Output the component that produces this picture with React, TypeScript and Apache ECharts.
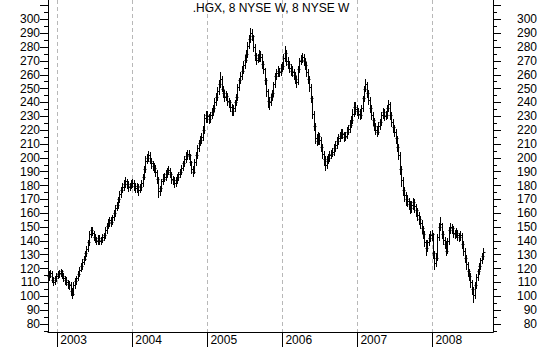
import { useEffect, useRef } from 'react';
import * as echarts from 'echarts';

const chartTitle = '.HGX, 8 NYSE W, 8 NYSE W';
// first weekly bar: 2002-11-22, one bar per week
const firstWeek = { y: 2002, m: 10, d: 22 };

// weekly bars: [high, low, close]
const wk2002 = [[118,112,115],[119,114,117],[118,110,112],[114,108,110],[115,109,113],[117,111,115]];
const wk2003 = [[118,113,116],[119,114,117],[120,115,118],[119,113,115],[117,111,113],[115,109,112],[114,108,110],[112,106,109],[111,105,108],[110,101,104],[106,99,102],[110,101,108],[113,106,111],[115,109,113],[118,112,116],[121,115,119],[124,118,122],[127,120,125],[129,123,127],[133,126,131],[136,129,134],[141,133,139],[147,137,145],[150,143,148],[150,144,146],[147,141,143],[145,139,141],[143,138,140],[144,138,142],[144,138,140],[143,138,141],[145,139,143],[146,141,144],[150,142,148],[153,146,151],[156,149,153],[157,151,155],[157,151,154],[159,152,157],[162,155,160],[166,158,164],[168,162,166],[172,164,170],[176,168,174],[179,172,177],[182,175,179],[184,177,181],[186,179,183],[185,178,181],[183,176,179],[182,177,180],[184,178,182]];
const wk2004 = [[185,179,182],[184,177,180],[182,175,178],[182,175,180],[181,173,177],[181,175,179],[184,177,182],[188,180,186],[194,185,192],[201,190,198],[203,196,200],[205,198,202],[204,196,198],[200,193,196],[198,191,194],[196,190,193],[195,187,190],[191,182,185],[186,172,176],[180,173,178],[185,176,183],[188,181,185],[189,183,186],[191,184,188],[193,186,190],[194,188,191],[193,186,188],[190,182,185],[187,181,184],[186,179,182],[186,180,184],[188,182,186],[190,184,188],[192,186,190],[195,188,193],[198,191,196],[201,194,199],[204,197,201],[206,199,203],[206,199,202],[203,195,197],[198,189,192],[194,187,190],[199,189,197],[204,195,202],[209,200,207],[213,205,211],[216,209,213],[218,211,215],[223,213,220],[232,218,229],[234,226,231],[234,226,230]];
const wk2005 = [[232,225,228],[233,226,231],[236,229,233],[238,231,236],[243,234,240],[247,238,244],[251,242,248],[256,246,253],[262,251,257],[259,248,250],[252,244,247],[249,241,244],[248,242,245],[247,238,241],[243,237,240],[242,234,237],[239,231,234],[238,231,236],[242,234,240],[246,238,244],[253,242,251],[258,249,256],[262,254,259],[266,257,263],[270,261,267],[274,265,271],[278,269,275],[284,273,281],[289,279,286],[294,284,290],[293,285,288],[289,277,280],[282,271,274],[276,268,271],[275,269,272],[278,270,275],[277,270,273],[275,265,268],[270,261,264],[265,253,256],[258,245,248],[250,237,241],[244,235,240],[246,238,244],[249,242,247],[255,245,253],[261,251,259],[264,257,261],[266,259,263],[265,259,262],[268,260,265],[269,263,266]];
const wk2006 = [[275,264,272],[281,270,276],[278,267,270],[273,265,268],[270,262,265],[268,260,263],[266,259,262],[264,257,260],[262,254,257],[259,251,255],[266,253,264],[272,262,270],[274,268,271],[276,269,273],[275,267,270],[272,264,267],[269,259,262],[264,254,257],[259,248,251],[253,240,243],[245,229,232],[234,220,223],[225,211,214],[217,209,212],[219,210,216],[218,210,213],[215,205,208],[210,200,203],[205,195,199],[201,191,195],[201,193,198],[203,196,200],[205,198,202],[206,200,203],[207,201,204],[210,202,207],[212,205,209],[215,207,212],[217,210,214],[219,212,216],[221,214,218],[221,214,217],[219,212,215],[219,213,216],[222,214,219],[224,217,221],[227,219,224],[230,222,227],[235,225,232],[240,230,237],[240,232,235],[238,231,234]];
const wk2007 = [[236,229,232],[235,228,231],[238,229,236],[245,234,243],[252,241,250],[257,248,253],[255,244,247],[249,239,242],[244,233,236],[238,228,231],[233,224,227],[229,220,223],[225,217,220],[223,216,219],[226,217,223],[228,221,226],[233,224,231],[236,229,233],[235,227,230],[234,228,231],[238,229,236],[242,234,239],[240,228,231],[233,223,226],[228,219,222],[224,216,219],[221,211,214],[216,205,208],[210,199,202],[204,188,192],[194,180,184],[186,173,177],[179,169,173],[175,166,170],[173,165,169],[171,163,167],[169,160,164],[169,161,166],[171,163,168],[170,161,165],[167,158,162],[164,155,159],[161,152,156],[158,149,153],[155,146,149],[151,142,145],[147,136,139],[141,130,135],[141,133,139],[145,137,142],[147,140,144],[148,141,145]];
const wk2008 = [[146,128,131],[133,120,124],[131,122,128],[145,126,143],[153,141,150],[157,148,152],[153,142,145],[147,138,141],[143,135,138],[140,130,133],[142,131,140],[150,138,148],[153,146,150],[152,146,149],[151,143,146],[148,142,145],[149,143,146],[148,141,144],[146,140,143],[147,141,144],[146,135,138],[140,130,133],[135,125,128],[130,120,123],[125,115,118],[120,112,115],[117,107,110],[112,102,105],[107,96,101],[110,99,108],[116,106,114],[120,112,118],[124,116,122],[128,120,126],[131,124,129],[135,127,132]];

const yearLabels = [2003, 2004, 2005, 2006, 2007, 2008];
const majorTicks = [80, 90, 100, 110, 120, 130, 140, 150, 160, 170, 180, 190, 200, 210, 220, 230, 240, 250, 260, 270, 280, 290, 300, 310];
const valueLabels = [80, 90, 100, 110, 120, 130, 140, 150, 160, 170, 180, 190, 200, 210, 220, 230, 240, 250, 260, 270, 280, 290, 300];
const minorTicks = [75, 85, 95, 105, 115, 125, 135, 145, 155, 165, 175, 185, 195, 205, 215, 225, 235, 245, 255, 265, 275, 285, 295, 305];

const FONT = 'Arial, "Liberation Sans", sans-serif';

export default function App() {
  const ref = useRef<HTMLDivElement>(null);
  useEffect(() => {
    if (!ref.current) return;
    const chart = echarts.init(ref.current, null, { renderer: 'svg' });
    const all = [...wk2002, ...wk2003, ...wk2004, ...wk2005, ...wk2006, ...wk2007, ...wk2008];
    const rows: number[][] = [];
    let prev: number | null = null;
    all.forEach((b, i) => {
      const t = new Date(firstWeek.y, firstWeek.m, firstWeek.d + 7 * i).getTime();
      const open = prev === null ? b[2] : prev;
      rows.push([t, open, b[0], b[1], b[2]]);
      prev = b[2];
    });
    const yearTs = yearLabels.map((y) => new Date(y, 0, 1).getTime());
    const yMin = 74.2;
    const yMax = 314;
    const baseY = {
      type: 'value' as const,
      min: yMin,
      max: yMax,
      splitLine: { show: false },
      axisLine: { show: true, lineStyle: { color: '#000', width: 1 } },
    };
    chart.setOption({
      animation: false,
      backgroundColor: '#fff',
      textStyle: { fontFamily: FONT },
      title: {
        text: chartTitle,
        left: 'center',
        top: 2,
        padding: 0,
        textStyle: { fontSize: 12, fontWeight: 'normal', color: '#000', fontFamily: FONT },
      },
      grid: { left: 48, right: 49, top: 0, bottom: 15, containLabel: false },
      xAxis: {
        type: 'value',
        min: new Date(2002, 10, 17).getTime(),
        max: new Date(2008, 9, 22).getTime(),
        axisLine: { show: true, lineStyle: { color: '#000', width: 1 } },
        axisTick: { show: true, customValues: yearTs, length: 15, lineStyle: { color: '#000' } },
        axisLabel: {
          customValues: yearTs,
          formatter: (v: number) => String(new Date(v).getFullYear()),
          align: 'left',
          verticalAlign: 'top',
          margin: 2,
          padding: [0, 0, 0, 3],
          fontSize: 12,
          color: '#000',
          fontFamily: FONT,
        },
        splitLine: { show: true, lineStyle: { color: '#b8b8b8', type: [4, 3], width: 1 } },
      },
      yAxis: [
        {
          ...baseY,
          position: 'left',
          axisTick: { show: true, customValues: majorTicks, length: 8, lineStyle: { color: '#000' } },
          axisLabel: { customValues: valueLabels, margin: 8, fontSize: 12, color: '#000', fontFamily: FONT },
        },
        {
          ...baseY,
          position: 'left',
          axisTick: { show: true, customValues: minorTicks, length: 4, lineStyle: { color: '#000' } },
          axisLabel: { show: false },
        },
        {
          ...baseY,
          position: 'right',
          axisTick: { show: true, customValues: majorTicks, length: 8, lineStyle: { color: '#000' } },
          axisLabel: { customValues: valueLabels, margin: 44, align: 'right', fontSize: 12, color: '#000', fontFamily: FONT },
        },
        {
          ...baseY,
          position: 'right',
          axisTick: { show: true, customValues: minorTicks, length: 4, lineStyle: { color: '#000' } },
          axisLabel: { show: false },
        },
      ],
      series: [
        {
          type: 'custom',
          xAxisIndex: 0,
          yAxisIndex: 0,
          encode: { x: 0, y: [2, 3] },
          data: rows,
          renderItem: (_params: any, api: any) => {
            const t = api.value(0);
            const pH = api.coord([t, api.value(2)]);
            const pL = api.coord([t, api.value(3)]);
            const pO = api.coord([t, api.value(1)]);
            const pC = api.coord([t, api.value(4)]);
            const x = Math.round(pH[0]) + 0.5;
            const yo = Math.round(pO[1]) + 0.5;
            const yc = Math.round(pC[1]) + 0.5;
            const st = { stroke: '#000', lineWidth: 1, fill: null };
            return {
              type: 'group',
              children: [
                { type: 'line', shape: { x1: x, y1: Math.round(pH[1]), x2: x, y2: Math.round(pL[1]) + 1 }, style: st },
                { type: 'line', shape: { x1: x - 2, y1: yo, x2: x, y2: yo }, style: st },
                { type: 'line', shape: { x1: x, y1: yc, x2: x + 2, y2: yc }, style: st },
              ],
            };
          },
        },
      ],
    });
    return () => chart.dispose();
  }, []);
  return (
    <div
      ref={ref}
      style={{ position: 'absolute', left: 0, top: 0, width: 542, height: 347, background: '#fff' }}
    />
  );
}
